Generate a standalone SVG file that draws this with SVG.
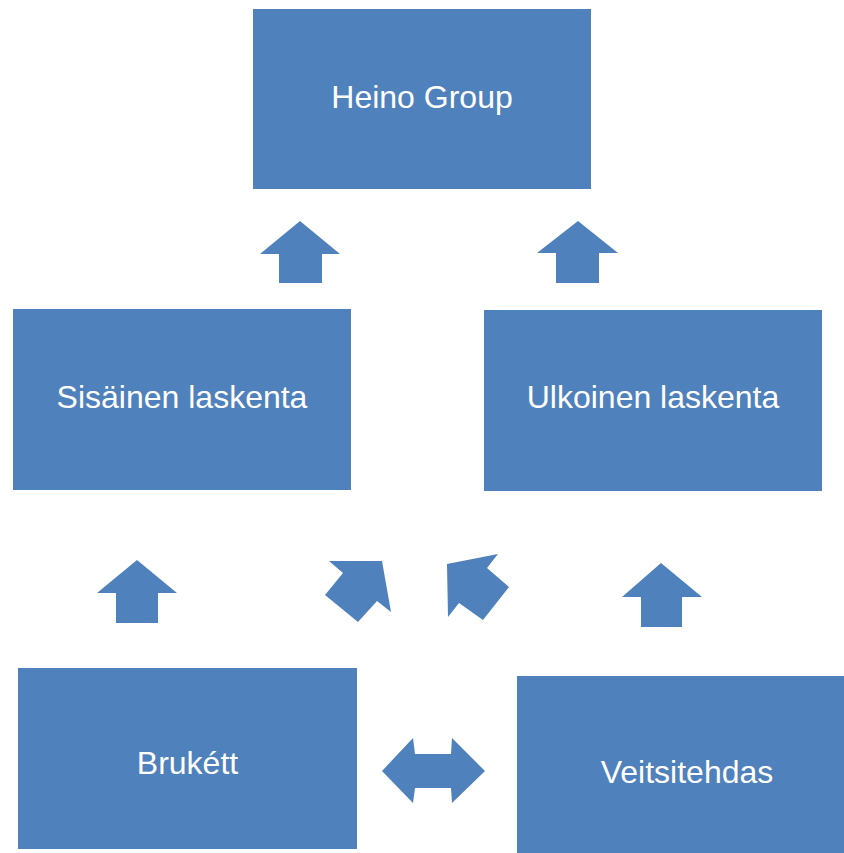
<svg xmlns="http://www.w3.org/2000/svg" width="844" height="853" viewBox="0 0 844 853">
<style>
.box{fill:#4F81BD}
.lbl{fill:#fff;font-family:"Liberation Sans",Arial,sans-serif;font-size:32px;text-anchor:middle}
.arr{fill:#4F81BD}
</style>
<rect width="844" height="853" fill="#fff"/>
<g id="heino"><rect class="box" x="253" y="9" width="338" height="180"/><text class="lbl" x="422" y="108">Heino Group</text></g>
<g id="sisainen"><rect class="box" x="13" y="309" width="338" height="181"/><text class="lbl" x="182" y="408">Sisäinen laskenta</text></g>
<g id="ulkoinen"><rect class="box" x="484" y="310" width="338" height="181"/><text class="lbl" x="653" y="408">Ulkoinen laskenta</text></g>
<g id="brukett"><rect class="box" x="18" y="668" width="339" height="181"/><text class="lbl" x="187.5" y="774">Brukétt</text></g>
<g id="veitsitehdas"><rect class="box" x="517" y="676" width="327" height="177"/><text class="lbl" x="687" y="783">Veitsitehdas</text></g>
<g id="connectors">
<polygon class="arr" points="300,221 340,254 322,254 322,283 279,283 279,254 260,254"/>
<polygon class="arr" points="578,221 618,253 599,253 599,283 556,283 556,253 537,253"/>
<polygon class="arr" points="137,560 177,593 158,593 158,623 116,623 116,593 97,593"/>
<polygon class="arr" points="661,563 702,597 682,597 682,627 641,627 641,597 622,597"/>
<polygon class="arr" points="329,561 382,561 391,612 377,601 358,622 325,595 343,573"/>
<polygon class="arr" points="447,564 498,554 487,568 509,587 483,620 459,603 448,617"/>
<polygon class="arr" points="382,771 413,738 415,754 451,754 452,738 485,771 452,803 451,788 415,788 413,803"/>
</g>
</svg>
